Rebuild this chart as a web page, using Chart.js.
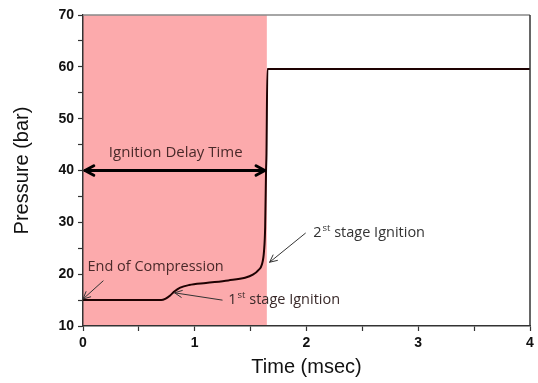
<!DOCTYPE html>
<html>
<head>
<meta charset="utf-8">
<script src="https://cdn.jsdelivr.net/npm/chart.js@4.4.1/dist/chart.umd.min.js"></script>
<style>
  html, body { margin: 0; padding: 0; background: #fff; }
  #wrap { width: 538px; height: 383px; }
</style>
</head>
<body>
<div id="wrap"><canvas id="pressureChart" width="538" height="383"></canvas></div>
<script>
// pressure trace (time in msec, pressure in bar)
var times     = [0, 0.70, 0.74, 0.78, 0.82, 0.87, 0.95, 1.10, 1.30, 1.45, 1.52, 1.57, 1.60, 1.62, 1.63, 1.638, 1.642, 1.65, 4];
var pressures = [15, 15, 15.3, 15.9, 16.7, 17.4, 17.9, 18.3, 18.8, 19.3, 19.9, 20.8, 21.8, 24.5, 29, 40, 43.3, 59.6, 59.6];

// shaded ignition delay window (msec)
var delayWindow = [0, 1.645];

var xMajorTicks = [0, 1, 2, 3, 4];
var yMajorTicks = [10, 20, 30, 40, 50, 60, 70];

// annotation anchors in data units
var delayArrow = { from: [0, 40], to: [1.645, 40], label: 'Ignition Delay Time', at: [0.83, 43.4] };
var notes = [
    { text: 'End of Compression', sup: '', rest: '', at: [0.04, 21.4], from: [0.18, 18.7], to: [0.0, 15.2], color: '#4a2a2a' },
    { text: '1', sup: 'st', rest: ' stage Ignition', at: [1.30, 15.0], from: [1.245, 15.0], to: [0.82, 16.4], color: '#3a2a2a' },
    { text: '2', sup: 'st', rest: ' stage Ignition', at: [2.06, 27.9], from: [1.99, 27.9], to: [1.67, 22.3], color: '#333333' }
];

var noteFont = '"Open Sans", "Noto Sans", sans-serif';

function arrowHead(ctx, x0, y0, x1, y1, len, spread) {
    var a = Math.atan2(y1 - y0, x1 - x0);
    ctx.beginPath();
    ctx.moveTo(x1 - len * Math.cos(a - spread), y1 - len * Math.sin(a - spread));
    ctx.lineTo(x1, y1);
    ctx.lineTo(x1 - len * Math.cos(a + spread), y1 - len * Math.sin(a + spread));
    ctx.stroke();
}

var figurePlugin = {
    id: 'figure',
    beforeDraw: function (chart) {
        var ctx = chart.ctx, xs = chart.scales.x, area = chart.chartArea;
        var x0 = xs.getPixelForValue(delayWindow[0]);
        var x1 = xs.getPixelForValue(delayWindow[1]);
        ctx.save();
        ctx.fillStyle = '#fcaaac';
        ctx.fillRect(x0, area.top, x1 - x0, area.bottom - area.top);
        ctx.restore();
    },
    afterDraw: function (chart) {
        var ctx = chart.ctx, xs = chart.scales.x, ys = chart.scales.y, area = chart.chartArea;
        ctx.save();

        // frame top and right
        ctx.lineWidth = 1.5;
        ctx.strokeStyle = '#888';
        ctx.beginPath();
        ctx.moveTo(area.left, area.top);
        ctx.lineTo(area.right, area.top);
        ctx.stroke();
        ctx.strokeStyle = '#333';
        ctx.beginPath();
        ctx.moveTo(area.right, area.top);
        ctx.lineTo(area.right, area.bottom);
        ctx.stroke();

        // double arrow for delay time
        var ax0 = xs.getPixelForValue(delayArrow.from[0]), ay = ys.getPixelForValue(delayArrow.from[1]);
        var ax1 = xs.getPixelForValue(delayArrow.to[0]);
        ctx.strokeStyle = '#000';
        ctx.lineWidth = 3;
        ctx.lineCap = 'round';
        ctx.lineJoin = 'round';
        ctx.beginPath();
        ctx.moveTo(ax0 + 2, ay);
        ctx.lineTo(ax1 - 2, ay);
        ctx.stroke();
        arrowHead(ctx, ax1, ay, ax0 + 2, ay, 10, 0.5);
        arrowHead(ctx, ax0, ay, ax1 - 2, ay, 10, 0.5);

        ctx.fillStyle = '#4a2a2a';
        ctx.font = '15px ' + noteFont;
        ctx.textAlign = 'center';
        ctx.textBaseline = 'middle';
        ctx.fillText(delayArrow.label, xs.getPixelForValue(delayArrow.at[0]), ys.getPixelForValue(delayArrow.at[1]));

        // callouts
        ctx.textAlign = 'left';
        notes.forEach(function (n) {
            var tx = xs.getPixelForValue(n.at[0]), ty = ys.getPixelForValue(n.at[1]);
            ctx.fillStyle = n.color;
            ctx.font = '14.5px ' + noteFont;
            ctx.fillText(n.text, tx, ty);
            var w = ctx.measureText(n.text).width;
            if (n.sup) {
                ctx.font = '9.5px ' + noteFont;
                ctx.fillText(n.sup, tx + w + 1, ty - 5);
                w += ctx.measureText(n.sup).width + 1;
                ctx.font = '14.5px ' + noteFont;
                ctx.fillText(n.rest, tx + w, ty);
            }
            var fx = xs.getPixelForValue(n.from[0]), fy = ys.getPixelForValue(n.from[1]);
            var px = xs.getPixelForValue(n.to[0]), py = ys.getPixelForValue(n.to[1]);
            ctx.strokeStyle = '#333';
            ctx.lineWidth = 1;
            ctx.beginPath();
            ctx.moveTo(fx, fy);
            ctx.lineTo(px, py);
            ctx.stroke();
            arrowHead(ctx, fx, fy, px, py, 8, 0.45);
        });
        ctx.restore();
    }
};

var ctx = document.getElementById('pressureChart').getContext('2d');
var chart = new Chart(ctx, {
    type: 'scatter',
    data: {
        datasets: [{
            label: 'Pressure',
            data: times.map(function (t, i) { return { x: t, y: pressures[i] }; }),
            showLine: true,
            borderColor: '#1e0202',
            borderWidth: 2,
            pointRadius: 0,
            cubicInterpolationMode: 'monotone'
        }]
    },
    options: {
        responsive: false,
        animation: false,
        layout: { padding: { left: 0, right: 8, top: 15, bottom: 0 } },
        plugins: {
            legend: { display: false },
            tooltip: { enabled: false }
        },
        scales: {
            x: {
                type: 'linear',
                min: 0,
                max: 4,
                afterFit: function (scale) { scale.height = 57; },
                ticks: {
                    stepSize: 0.5,
                    autoSkip: false,
                    maxRotation: 0,
                    padding: 4,
                    color: '#111',
                    font: { family: '"Liberation Sans", Arial, sans-serif', size: 14, weight: 'bold' },
                    callback: function (v) { return xMajorTicks.indexOf(v) >= 0 ? String(v) : ''; }
                },
                grid: { drawOnChartArea: false, tickLength: 5, tickColor: '#333', tickWidth: 1.2 },
                border: { color: '#333', width: 1.5 },
                title: {
                    display: true,
                    text: 'Time (msec)',
                    color: '#111',
                    font: { family: '"Liberation Sans", Arial, sans-serif', size: 20 },
                    padding: { top: 8 }
                }
            },
            y: {
                type: 'linear',
                min: 10,
                max: 70,
                afterFit: function (scale) { scale.width = 83; },
                ticks: {
                    stepSize: 5,
                    autoSkip: false,
                    padding: 4,
                    color: '#111',
                    font: { family: '"Liberation Sans", Arial, sans-serif', size: 14, weight: 'bold' },
                    callback: function (v) { return yMajorTicks.indexOf(v) >= 0 ? String(v) : ''; }
                },
                grid: { drawOnChartArea: false, tickLength: 5, tickColor: '#333', tickWidth: 1.2 },
                border: { color: '#333', width: 1.5 },
                title: {
                    display: true,
                    text: 'Pressure (bar)',
                    color: '#111',
                    font: { family: '"Liberation Sans", Arial, sans-serif', size: 20 },
                    padding: { top: 10, bottom: 4 }
                }
            }
        }
    },
    plugins: [figurePlugin]
});
</script>
</body>
</html>
